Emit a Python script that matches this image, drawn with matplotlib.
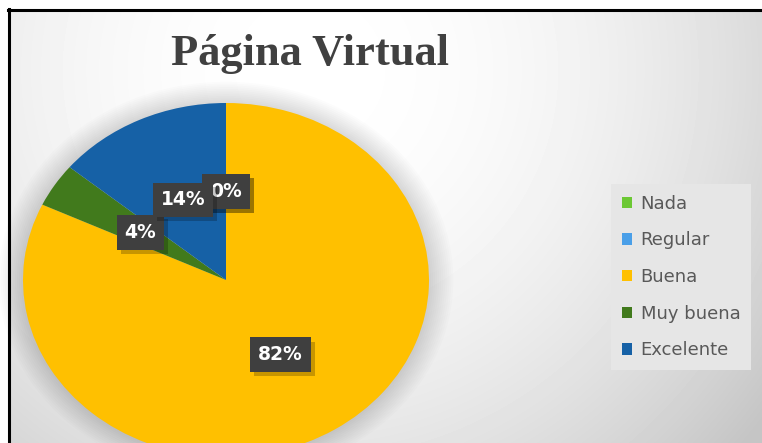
import numpy as np
import matplotlib
matplotlib.use("Agg")
import matplotlib.pyplot as plt
import matplotlib.patheffects as pe
from matplotlib.patches import Ellipse
from matplotlib.lines import Line2D

# data
categorias = ["Nada", "Regular", "Buena", "Muy buena", "Excelente"]
valores = [0, 0, 82, 4, 14]
colores = ["#6cc834", "#4a9fe8", "#ffc000", "#417a1c", "#1661a6"]
titulo = "Página Virtual"

W, H = 762, 443
fig = plt.figure(figsize=(W / 100, H / 100), dpi=100)

# background with radial gradient
bg = fig.add_axes([0, 0, 1, 1])
yy, xx = np.mgrid[0:H, 0:W]
d2 = (xx - 310.0) ** 2 + (yy - 70.0) ** 2
grad = np.clip(1 - 7.0e-7 * d2, 0.77, 1.0)
grad[(xx < 9) | (yy < 10)] = 1.0
bg.imshow(grad, cmap="gray", vmin=0, vmax=1, extent=(0, W, H, 0), aspect="auto")
bg.set_xlim(0, W)
bg.set_ylim(H, 0)
bg.axis("off")
bg.add_line(Line2D([9, 9], [9, H], color="black", lw=2.2))
bg.add_line(Line2D([8, W], [10, 10], color="black", lw=2.2))

# pie axes (slightly stretched, like the source image)
cx, cy, rx, ry = 226, 280, 203, 177
ax = fig.add_axes([(cx - rx) / W, (H - cy - ry) / H, 2 * rx / W, 2 * ry / H])
ax.patch.set_visible(False)

# soft glow around the pie
for s in np.linspace(1.12, 1.0, 13):
    ax.add_patch(Ellipse((0, 0), 2 * s, 2 * s, fc="black", ec="none",
                         alpha=0.012, clip_on=False, zorder=0))

wedges, texts, autotexts = ax.pie(
    valores, colors=colores, startangle=90, counterclock=False,
    autopct="%1.0f%%", pctdistance=0.5,
    wedgeprops=dict(edgecolor="none", clip_on=False))
ax.set_aspect("auto")
ax.set_xlim(-1, 1)
ax.set_ylim(-1, 1)
ax.axis("off")

for t in autotexts:
    t.set(color="white", fontweight="bold", fontsize=13.5, clip_on=False)
    t.set_bbox(dict(boxstyle="square,pad=0.42", fc="#3f3f3f", ec="none"))
    t.get_bbox_patch().set_path_effects(
        [pe.withSimplePatchShadow(offset=(3, -3), shadow_rgbFace="black", alpha=0.22)])

fig.text(310 / W, 1 - 54 / H, titulo, ha="center", va="center",
         fontsize=32, fontweight="bold", family="Liberation Serif", color="#404040")

leg = fig.legend(wedges, categorias, loc="center",
                 bbox_to_anchor=(681 / W, (H - 277) / H),
                 frameon=True, fancybox=False, framealpha=1,
                 facecolor="#e6e6e6", edgecolor="none",
                 fontsize=13, labelcolor="#595959",
                 handlelength=0.6, handleheight=0.6, handletextpad=0.45,
                 labelspacing=1.03, borderpad=0.6)

fig.savefig("out.png", dpi=100)
